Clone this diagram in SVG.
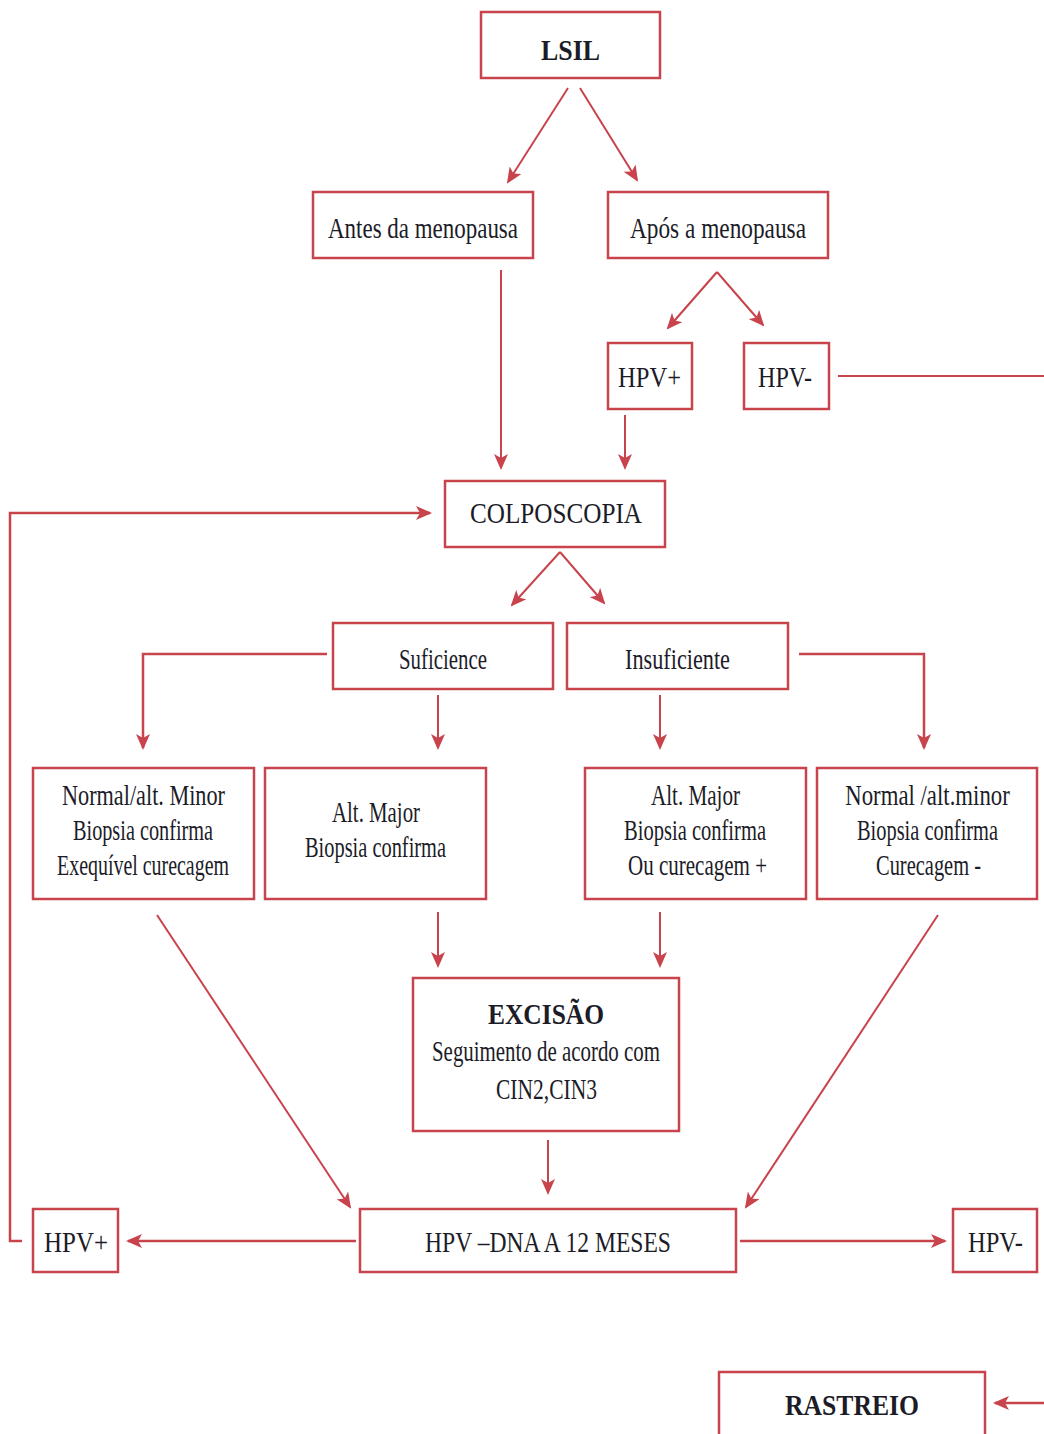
<svg xmlns="http://www.w3.org/2000/svg" width="1044" height="1434" viewBox="0 0 1044 1434">
<style>
.box{fill:#fff;stroke:#c8434c;stroke-width:2.5}
.c{fill:none;stroke:#c8434c;stroke-width:2}
.w{stroke-width:2.5}
.t{font-family:"Liberation Serif","DejaVu Serif",serif;fill:#1c1c28;font-size:30px;text-anchor:middle}
.b{font-weight:bold}
</style>
<defs>
<marker id="ah" markerUnits="userSpaceOnUse" markerWidth="16" markerHeight="14" refX="14" refY="7" orient="auto">
<path d="M0,0 L16,7 L0,14 L4,7 Z" fill="#c8434c"/>
</marker>
</defs>
<rect width="1044" height="1434" fill="#fff"/>
<g id="connectors">
<line class="c" x1="568" y1="88" x2="508" y2="182" marker-end="url(#ah)"/>
<line class="c" x1="580" y1="88" x2="637" y2="180" marker-end="url(#ah)"/>
<line class="c" x1="717" y1="272" x2="668" y2="328" marker-end="url(#ah)"/>
<line class="c" x1="717" y1="272" x2="763" y2="325" marker-end="url(#ah)"/>
<line class="c" x1="838" y1="376" x2="1044" y2="376"/>
<line class="c" x1="501" y1="270" x2="501" y2="468" marker-end="url(#ah)"/>
<line class="c" x1="625" y1="415" x2="625" y2="468" marker-end="url(#ah)"/>
<polyline class="c w" points="22,1241 10,1241 10,513 430,513" marker-end="url(#ah)"/>
<line class="c" x1="560" y1="552" x2="512" y2="605" marker-end="url(#ah)"/>
<line class="c" x1="560" y1="552" x2="604" y2="603" marker-end="url(#ah)"/>
<polyline class="c w" points="327,654 143,654 143,748" marker-end="url(#ah)"/>
<line class="c" x1="438" y1="695" x2="438" y2="748" marker-end="url(#ah)"/>
<line class="c" x1="660" y1="695" x2="660" y2="748" marker-end="url(#ah)"/>
<polyline class="c w" points="799,654 924,654 924,748" marker-end="url(#ah)"/>
<line class="c" x1="438" y1="912" x2="438" y2="966" marker-end="url(#ah)"/>
<line class="c" x1="660" y1="912" x2="660" y2="966" marker-end="url(#ah)"/>
<line class="c" x1="157" y1="915" x2="350" y2="1207" marker-end="url(#ah)"/>
<line class="c" x1="938" y1="915" x2="746" y2="1207" marker-end="url(#ah)"/>
<line class="c" x1="548" y1="1140" x2="548" y2="1193" marker-end="url(#ah)"/>
<line class="c w" x1="356" y1="1241" x2="128" y2="1241" marker-end="url(#ah)"/>
<line class="c w" x1="740" y1="1241" x2="945" y2="1241" marker-end="url(#ah)"/>
<line class="c w" x1="1044" y1="1403" x2="995" y2="1403" marker-end="url(#ah)"/>
</g>
<g id="lsil"><rect class="box" x="481" y="12" width="179" height="66"/><text class="t b" x="570.5" y="60" font-size="46" textLength="59" lengthAdjust="spacingAndGlyphs">LSIL</text></g>
<g id="antes"><rect class="box" x="313" y="192" width="220" height="66"/><text class="t" x="423" y="238" font-size="34" textLength="190" lengthAdjust="spacingAndGlyphs">Antes da menopausa</text></g>
<g id="apos"><rect class="box" x="608" y="192" width="220" height="66"/><text class="t" x="718" y="238" font-size="34" textLength="176" lengthAdjust="spacingAndGlyphs">Após a menopausa</text></g>
<g id="hpvpos1"><rect class="box" x="608" y="343" width="84" height="66"/><text class="t" x="649.5" y="387" font-size="34" textLength="63" lengthAdjust="spacingAndGlyphs">HPV+</text></g>
<g id="hpvneg1"><rect class="box" x="744" y="343" width="85" height="66"/><text class="t" x="785" y="387" font-size="34" textLength="54" lengthAdjust="spacingAndGlyphs">HPV-</text></g>
<g id="colposcopia"><rect class="box" x="445" y="481" width="220" height="66"/><text class="t" x="556" y="523" font-size="31" textLength="172" lengthAdjust="spacingAndGlyphs">COLPOSCOPIA</text></g>
<g id="suficiente"><rect class="box" x="333" y="623" width="220" height="66"/><text class="t" x="443" y="669" font-size="34" textLength="88" lengthAdjust="spacingAndGlyphs">Suficience</text></g>
<g id="insuficiente"><rect class="box" x="567" y="623" width="221" height="66"/><text class="t" x="677.5" y="669" font-size="34" textLength="105" lengthAdjust="spacingAndGlyphs">Insuficiente</text></g>
<g id="normalA"><rect class="box" x="33" y="768" width="221" height="131"/>
<text class="t" x="143.5" y="805" textLength="163" lengthAdjust="spacingAndGlyphs">Normal/alt. Minor</text>
<text class="t" x="143" y="840" textLength="140" lengthAdjust="spacingAndGlyphs">Biopsia confirma</text>
<text class="t" x="143" y="875" textLength="172" lengthAdjust="spacingAndGlyphs">Exequível curecagem</text></g>
<g id="majorB"><rect class="box" x="265" y="768" width="221" height="131"/>
<text class="t" x="376" y="822" textLength="88" lengthAdjust="spacingAndGlyphs">Alt. Major</text>
<text class="t" x="375.5" y="857" textLength="141" lengthAdjust="spacingAndGlyphs">Biopsia confirma</text></g>
<g id="majorC"><rect class="box" x="585" y="768" width="221" height="131"/>
<text class="t" x="695.5" y="805" textLength="89" lengthAdjust="spacingAndGlyphs">Alt. Major</text>
<text class="t" x="695" y="840" textLength="142" lengthAdjust="spacingAndGlyphs">Biopsia confirma</text>
<text class="t" x="697.5" y="875" textLength="139" lengthAdjust="spacingAndGlyphs">Ou curecagem +</text></g>
<g id="normalD"><rect class="box" x="817" y="768" width="220" height="131"/>
<text class="t" transform="translate(927.5,805) scale(0.76,1)">Normal /alt.minor</text>
<text class="t" transform="translate(927.5,840) scale(0.68,1)">Biopsia confirma</text>
<text class="t" x="928.5" y="875" textLength="105" lengthAdjust="spacingAndGlyphs">Curecagem -</text></g>
<g id="excisao"><rect class="box" x="413" y="978" width="266" height="153"/>
<text class="t b" x="546" y="1024" font-size="40" textLength="116" lengthAdjust="spacingAndGlyphs">EXCISÃO</text>
<text class="t" x="546" y="1061" font-size="29" textLength="228" lengthAdjust="spacingAndGlyphs">Seguimento de acordo com</text>
<text class="t" x="546.5" y="1099" font-size="29" textLength="101" lengthAdjust="spacingAndGlyphs">CIN2,CIN3</text></g>
<g id="hpvdna"><rect class="box" x="360" y="1209" width="376" height="63"/><text class="t" x="548" y="1252" font-size="32" textLength="246" lengthAdjust="spacingAndGlyphs">HPV –DNA A 12 MESES</text></g>
<g id="hpvpos2"><rect class="box" x="33" y="1209" width="85" height="63"/><text class="t" x="76" y="1252" font-size="32" textLength="64" lengthAdjust="spacingAndGlyphs">HPV+</text></g>
<g id="hpvneg2"><rect class="box" x="953" y="1209" width="84" height="63"/><text class="t" x="995.5" y="1252" font-size="32" textLength="55" lengthAdjust="spacingAndGlyphs">HPV-</text></g>
<g id="rastreio"><rect class="box" x="719" y="1372" width="266" height="70"/><text class="t b" x="852" y="1415" font-size="38" textLength="134" lengthAdjust="spacingAndGlyphs">RASTREIO</text></g>
</svg>
